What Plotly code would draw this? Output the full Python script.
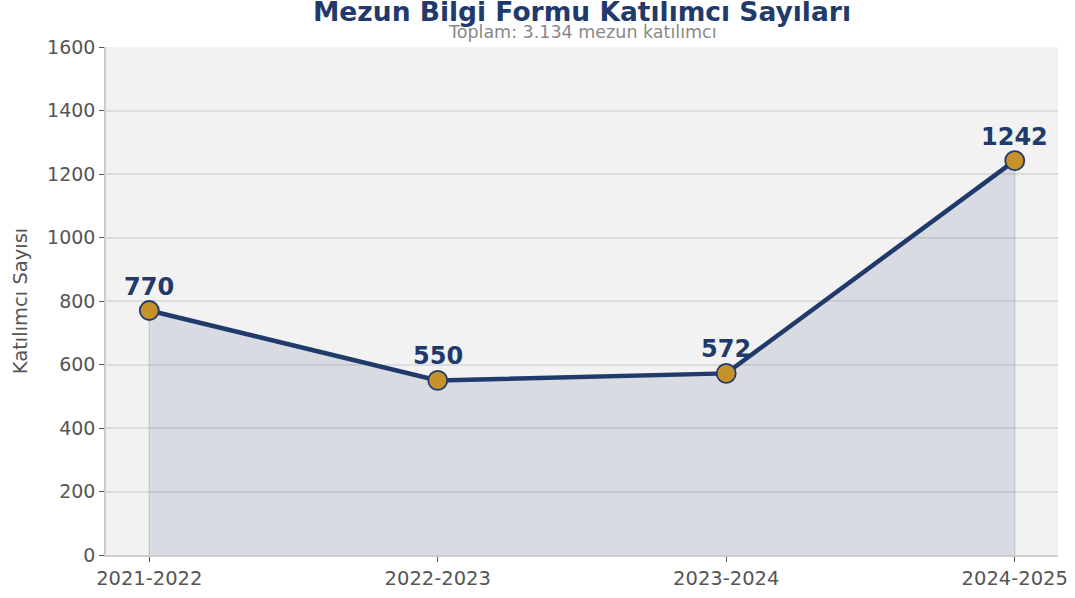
import plotly.graph_objects as go

years = ["2021-2022", "2022-2023", "2023-2024", "2024-2025"]
counts = [770, 550, 572, 1242]
title_text = "Mezun Bilgi Formu Katılımcı Sayıları"
subtitle_text = "Toplam: 3.134 mezun katılımcı"
y_title = "Katılımcı Sayısı"
y_ticks = [0, 200, 400, 600, 800, 1000, 1200, 1400, 1600]

navy = "#1f3a6b"
orange = "#c8922a"
font = "DejaVu Sans"
W, H = 1075, 598
L, R, T, B = 106, 17, 47, 43

xi = list(range(len(years)))
poly_x = [xi[0]] + xi + [xi[-1]]
poly_y = [0] + counts + [0]

fig = go.Figure()
fig.add_trace(go.Scatter(
    x=poly_x, y=poly_y, mode="lines", fill="toself",
    fillcolor="rgba(31,58,107,0.12)",
    line=dict(color="rgba(31,58,107,0.15)", width=1.5),
    hoverinfo="skip", showlegend=False))
fig.add_trace(go.Scatter(
    x=xi, y=counts, mode="lines+markers",
    line=dict(color=navy, width=4.5),
    marker=dict(size=19, color=orange, line=dict(color=navy, width=1.8)),
    showlegend=False))

for x, v in zip(xi, counts):
    fig.add_annotation(x=x, y=v, text=f"<b>{v}</b>", showarrow=False,
                       yshift=24, font=dict(family=font, size=24, color=navy))

ph = H - T - B
fig.add_annotation(x=0.5, xref="paper", yref="paper",
                   y=(H - 32 - B) / ph, xanchor="center", yanchor="middle",
                   text=subtitle_text, showarrow=False,
                   font=dict(family=font, size=17.5, color="#888888"))

fig.update_layout(
    width=W, height=H,
    margin=dict(l=L, r=R, t=T, b=B, autoexpand=False),
    paper_bgcolor="white", plot_bgcolor="#f2f2f2",
    font=dict(family=font, color="#555555", size=19),
    title=dict(text=f"<b>{title_text}</b>", x=0.5, xref="paper", xanchor="center",
               y=1 - 12 / H, yanchor="middle",
               font=dict(family=font, size=26.5, color=navy)),
    xaxis=dict(
        range=[-0.15, 3.15], tickvals=xi, ticktext=years,
        showgrid=False, zeroline=False, automargin=False,
        showline=True, linecolor="#cccccc", linewidth=1.5,
        ticks="outside", ticklen=5, tickcolor="#555555",
        tickfont=dict(family=font, size=19.5, color="#555555")),
    yaxis=dict(
        range=[0, 1600], tickvals=y_ticks, automargin=False,
        showgrid=True, gridcolor="#dddddd", gridwidth=1.5,
        zeroline=False,
        showline=True, linecolor="#cccccc", linewidth=1.5,
        ticks="outside", ticklen=5, tickcolor="#555555",
        tickfont=dict(family=font, size=19, color="#555555"),
        title=dict(text=y_title, standoff=14,
                   font=dict(family=font, size=19.5, color="#555555"))),
)
fig.write_html("out.html", config={"displayModeBar": False},
               post_script="document.body.style.margin='0';")
